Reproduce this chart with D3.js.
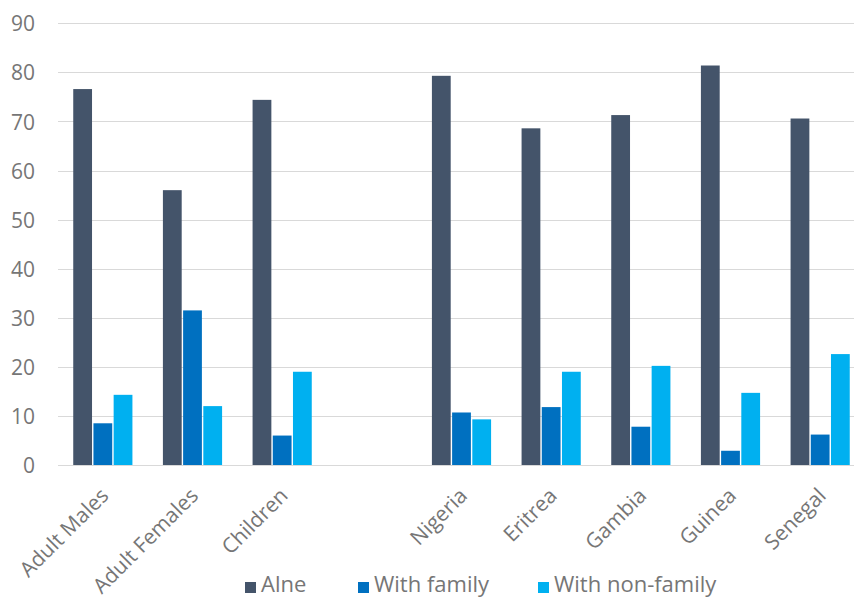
<!DOCTYPE html>
<html>
<head>
<meta charset="utf-8">
<script src="https://cdn.jsdelivr.net/npm/d3@7"></script>
<style>
  html, body { margin: 0; padding: 0; background: #fff; }
  svg { display: block; }
  text { font-family: "Open Sans", "Noto Sans", sans-serif; fill: #767676; }
</style>
</head>
<body>
<svg id="chart" width="854" height="598"></svg>
<script>
const categories = ["Adult Males", "Adult Females", "Children", "", "Nigeria", "Eritrea", "Gambia", "Guinea", "Senegal"];
const seriesNames = ["Alne", "With family", "With non-family"];
const alne =          [76.6, 56.0, 74.4, null, 79.3, 68.6, 71.3, 81.4, 70.6];
const withFamily =    [8.5, 31.5, 6.0, null, 10.7, 11.8, 7.8, 2.9, 6.2];
const withNonFamily = [14.3, 12.0, 19.0, null, 9.3, 19.0, 20.2, 14.7, 22.6];
const yTicks = [0, 10, 20, 30, 40, 50, 60, 70, 80, 90];
const colors = ["#44546A", "#0070C0", "#00B0F0"];

const seriesValues = [alne, withFamily, withNonFamily];
const svg = d3.select("#chart");

const x = d3.scaleBand().domain(d3.range(categories.length)).range([58, 865]).paddingInner(0.34).paddingOuter(0.17);
const xs = d3.scaleBand().domain(d3.range(seriesNames.length)).range([0, x.bandwidth()]).paddingInner(0.07);
const y = d3.scaleLinear().domain([0, 90]).range([465, 23.3]);

// gridlines
svg.append("g").selectAll("line").data(yTicks).join("line")
  .attr("x1", 58).attr("x2", 854)
  .attr("y1", d => Math.round(y(d)) + 0.5).attr("y2", d => Math.round(y(d)) + 0.5)
  .attr("stroke", "#D9D9D9").attr("stroke-width", 1);

// y labels
const yAxis = d3.axisLeft(y).tickValues(yTicks).tickSize(0).tickPadding(0);
const yg = svg.append("g").attr("transform", "translate(35,0)").call(yAxis);
yg.select(".domain").remove();
yg.selectAll("text").style("font-size", "21px").attr("fill", "#767676").attr("dy", "0.36em");

// bars
const groups = svg.append("g").selectAll("g").data(categories.map((c, i) => i)).join("g")
  .attr("transform", i => `translate(${x(i)},0)`);
groups.selectAll("rect")
  .data(i => seriesValues.map((s, k) => ({k, v: s[i]})).filter(d => d.v != null))
  .join("rect")
  .attr("x", d => xs(d.k))
  .attr("width", xs.bandwidth())
  .attr("y", d => y(d.v))
  .attr("height", d => y(0) - y(d.v))
  .attr("fill", d => colors[d.k]);

// x labels
svg.append("g").selectAll("text").data(categories.map((c, i) => ({c, i})).filter(d => d.c))
  .join("text")
  .attr("transform", d => `translate(${x(d.i) + x.bandwidth() / 2 + 7},497) rotate(-45)`)
  .attr("text-anchor", "end")
  .style("font-size", "21px")
  .text(d => d.c);

// legend
const legendItems = [
  {name: seriesNames[0], color: colors[0], x: 245},
  {name: seriesNames[1], color: colors[1], x: 358},
  {name: seriesNames[2], color: colors[2], x: 538}
];
const lg = svg.append("g").selectAll("g").data(legendItems).join("g")
  .attr("transform", d => `translate(${d.x},0)`);
lg.append("rect").attr("x", 0).attr("y", 582).attr("width", 11).attr("height", 11).attr("fill", d => d.color);
lg.append("text").attr("x", 16).attr("y", 592).style("font-size", "22px").text(d => d.name);
</script>
</body>
</html>
